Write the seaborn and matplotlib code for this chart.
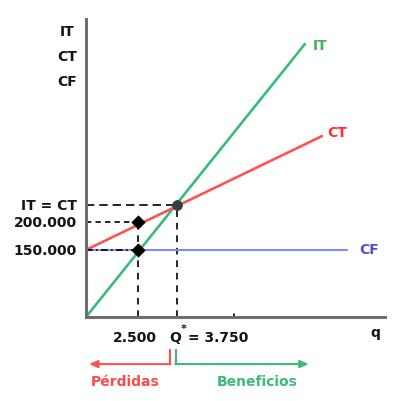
import matplotlib
matplotlib.use("Agg")
import matplotlib.pyplot as plt
import seaborn as sns
import pandas as pd

# ---- schematic chart values (chart units, axes 0..100) ----
series_names = ["IT", "CT", "CF"]
it_q = [0, 73.2]
it_v = [0, 91.6]
ct_q = [0, 78.9]
ct_v = [22.5, 60.7]
cf_q = [0, 87.3]
cf_v = [22.5, 22.5]

q_loss = 17.4          # 2.500
q_be = 30.4            # Q* = 3.750
v_cf = 22.5            # 150.000
v_ct_loss = 31.9       # 200.000
v_be = 37.6            # IT = CT
q_minor = 49.5         # small tick on q axis

y_tick_labels = ["150.000", "200.000", "IT = CT"]
x_tick_labels = ["2.500", "= 3.750"]
y_axis_title = ["IT", "CT", "CF"]
loss_label = "Pérdidas"
gain_label = "Beneficios"

# ---- styling ----
sns.set_style("white")
plt.rcParams["font.family"] = ["DejaVu Sans"]
plt.rcParams["font.weight"] = "bold"

GREEN = "#3dba78"
RED = "#ff5252"
BLUE = "#7b8cf5"
TXT = "#141414"

fig = plt.figure(figsize=(4.12, 4.02), dpi=100)
ax = fig.add_axes([86 / 412, 84 / 402, 299 / 412, 298 / 402])
ax.set_xlim(0, 100)
ax.set_ylim(0, 100)

df = pd.DataFrame({
    "q": it_q + ct_q + cf_q,
    "v": it_v + ct_v + cf_v,
    "serie": ["IT"] * 2 + ["CT"] * 2 + ["CF"] * 2,
})
palette = {"IT": GREEN, "CT": RED, "CF": BLUE}
sizes = {"IT": 1.9, "CT": 1.9, "CF": 1.5}
for name in series_names:
    sub = df[df["serie"] == name]
    sns.lineplot(data=sub, x="q", y="v", color=palette[name], lw=sizes[name],
                 ax=ax, legend=False, zorder=3)

# dashed guides
k = "#000000"
ax.plot([0, q_be], [v_be, v_be], color=k, lw=1.2, ls=(0, (5, 3)), zorder=2)
ax.plot([q_be, q_be], [0, v_be], color=k, lw=1.2, ls=(0, (4, 3.5)), zorder=2)
ax.plot([0, q_loss], [v_ct_loss, v_ct_loss], color=k, lw=1.2, ls=(0, (3.2, 2.5)), zorder=2)
ax.plot([q_loss, q_loss], [0, v_ct_loss], color=k, lw=1.2, ls=(0, (4, 3.5)), zorder=2)
ax.plot([0, q_loss], [v_cf, v_cf], color=k, lw=1.2, ls=(0, (4, 2, 1, 2)), zorder=4)
ax.plot([q_minor, q_minor], [0, 1.0], color=k, lw=1.2, zorder=2)

# points
pts = pd.DataFrame({"q": [q_loss, q_loss], "v": [v_ct_loss, v_cf]})
sns.scatterplot(data=pts, x="q", y="v", marker="D", s=45, color="black",
                edgecolor="black", ax=ax, zorder=5, legend=False)
sns.scatterplot(x=[q_be], y=[v_be], marker="o", s=50, color="#2f4048",
                edgecolor="#2f4048", ax=ax, zorder=5, legend=False)

# spines
for s in ["top", "right"]:
    ax.spines[s].set_visible(False)
for s in ["left", "bottom"]:
    ax.spines[s].set_color("#6e6e6e")
    ax.spines[s].set_linewidth(2.2)
    ax.spines[s].set_zorder(6)
ax.set_xticks([])
ax.set_yticks([])
ax.set_xlabel("")
ax.set_ylabel("")

fs = 10
# y labels
for val, lab in zip([v_cf, v_ct_loss, v_be], y_tick_labels):
    ax.text(-3.0, val, lab, ha="right", va="center", fontsize=fs, color=TXT,
            fontweight="bold", clip_on=False)
# y axis title
for yy, lab in zip([96.0, 87.6, 79.2], y_axis_title):
    ax.text(-6.4, yy, lab, ha="center", va="center", fontsize=fs, color=TXT,
            fontweight="bold", clip_on=False)
# series labels at line ends
ax.text(it_q[1] + 2.6, it_v[1] - 0.3, "IT", color="#3cb45a", fontsize=fs,
        ha="left", va="center", fontweight="bold")
ax.text(ct_q[1] + 1.8, ct_v[1] + 1.4, "CT", color="#ff3030", fontsize=fs,
        ha="left", va="center", fontweight="bold")
ax.text(cf_q[1] + 4.0, cf_v[1] + 0.3, "CF", color="#5050d0", fontsize=fs,
        ha="left", va="center", fontweight="bold", clip_on=False)

# x labels
ax.text(16.4, -6.7, x_tick_labels[0], ha="center", va="center", fontsize=fs,
        color=TXT, fontweight="bold", clip_on=False)
ax.text(28.0, -6.7, "Q", ha="left", va="center", fontsize=fs, color=TXT,
        fontweight="bold", clip_on=False)
ax.text(32.5, -3.6, "*", ha="center", va="center", fontsize=8, color=TXT,
        fontweight="bold", clip_on=False)
ax.text(34.2, -6.7, x_tick_labels[1], ha="left", va="center", fontsize=fs,
        color=TXT, fontweight="bold", clip_on=False)
ax.text(96.7, -5.0, "q", ha="center", va="center", fontsize=fs, color=TXT,
        fontweight="bold", clip_on=False)

# brackets with arrows
ax.plot([28.1, 28.1], [-10.7, -15.8], color=RED, lw=1.5, clip_on=False,
        solid_capstyle="butt")
ax.annotate("", xy=(1.0, -15.8), xytext=(28.1 + 0.25, -15.8),
            arrowprops=dict(arrowstyle="-|>,head_length=0.5,head_width=0.22",
                            color=RED, lw=1.5, shrinkA=0, shrinkB=0),
            annotation_clip=False)
ax.plot([30.1, 30.1], [-10.7, -15.8], color=GREEN, lw=1.5, clip_on=False,
        solid_capstyle="butt")
ax.annotate("", xy=(74.5, -15.8), xytext=(30.1 - 0.25, -15.8),
            arrowprops=dict(arrowstyle="-|>,head_length=0.5,head_width=0.22",
                            color=GREEN, lw=1.5, shrinkA=0, shrinkB=0),
            annotation_clip=False)
ax.text(13.0, -21.6, loss_label, ha="center", va="center", fontsize=fs,
        color="#ff4a4a", fontweight="bold", clip_on=False)
ax.text(57.2, -21.6, gain_label, ha="center", va="center", fontsize=fs,
        color="#3dba78", fontweight="bold", clip_on=False)

fig.savefig("out.png", dpi=100)
